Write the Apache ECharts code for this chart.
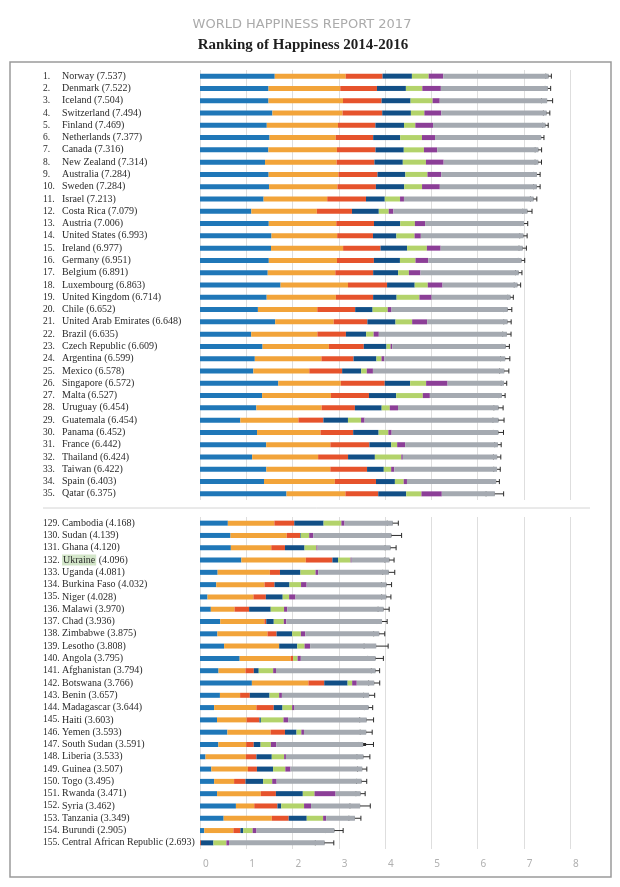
<!DOCTYPE html>
<html><head><meta charset="utf-8">
<script src="https://cdn.jsdelivr.net/npm/echarts@6/dist/echarts.min.js"></script>
<style>html,body{margin:0;padding:0;background:#fff}#c{width:620px;height:887px}</style>
</head><body><div id="c"></div>
<script>
// ---- data (World Happiness Report 2017, Figure: Ranking of Happiness 2014-2016) ----
const ranks = [1,2,3,4,5,6,7,8,9,10,11,12,13,14,15,16,17,18,19,20,21,22,23,24,25,26,27,28,29,30,31,32,33,34,35,
  129,130,131,132,133,134,135,136,137,138,139,140,141,142,143,144,145,146,147,148,149,150,151,152,153,154,155];
const names = ['Norway','Denmark','Iceland','Switzerland','Finland','Netherlands','Canada','New Zealand','Australia','Sweden',
  'Israel','Costa Rica','Austria','United States','Ireland','Germany','Belgium','Luxembourg','United Kingdom','Chile',
  'United Arab Emirates','Brazil','Czech Republic','Argentina','Mexico','Singapore','Malta','Uruguay','Guatemala','Panama',
  'France','Thailand','Taiwan','Spain','Qatar',
  'Cambodia','Sudan','Ghana','Ukraine','Uganda','Burkina Faso','Niger','Malawi','Chad','Zimbabwe','Lesotho','Angola',
  'Afghanistan','Botswana','Benin','Madagascar','Haiti','Yemen','South Sudan','Liberia','Guinea','Togo','Rwanda','Syria',
  'Tanzania','Burundi','Central African Republic'];
const scores = [7.537,7.522,7.504,7.494,7.469,7.377,7.316,7.314,7.284,7.284,7.213,7.079,7.006,6.993,6.977,6.951,6.891,6.863,6.714,6.652,
  6.648,6.635,6.609,6.599,6.578,6.572,6.527,6.454,6.454,6.452,6.442,6.424,6.422,6.403,6.375,
  4.168,4.139,4.120,4.096,4.081,4.032,4.028,3.970,3.936,3.875,3.808,3.795,3.794,3.766,3.657,3.644,3.603,3.593,3.591,3.533,
  3.507,3.495,3.471,3.462,3.349,2.905,2.693];
const gdp = [1.616,1.482,1.481,1.565,1.444,1.504,1.479,1.406,1.484,1.494,1.375,1.110,1.487,1.546,1.536,1.488,1.464,1.742,1.442,1.252,
  1.626,1.107,1.353,1.185,1.153,1.692,1.343,1.218,0.872,1.233,1.431,1.128,1.434,1.384,1.870,
  0.602,0.660,0.667,0.894,0.381,0.351,0.162,0.234,0.438,0.376,0.521,0.858,0.401,1.122,0.431,0.306,0.368,0.592,0.397,0.119,
  0.245,0.305,0.369,0.777,0.511,0.092,0.000];
const socialSupport = [1.534,1.551,1.611,1.517,1.540,1.429,1.481,1.548,1.510,1.478,1.376,1.416,1.460,1.420,1.558,1.473,1.462,1.458,1.496,1.284,
  1.266,1.431,1.434,1.440,1.210,1.353,1.488,1.412,1.256,1.373,1.388,1.426,1.384,1.532,1.274,
  1.006,1.214,0.874,1.394,1.130,1.044,0.993,0.513,0.954,1.083,1.191,1.104,0.582,1.222,0.436,0.913,0.640,0.935,0.601,0.872,
  0.791,0.432,0.946,0.396,1.042,0.630,0.000];
const lifeExpectancy = [0.797,0.793,0.834,0.858,0.809,0.811,0.835,0.817,0.844,0.831,0.838,0.760,0.815,0.774,0.810,0.799,0.818,0.845,0.805,0.819,
  0.727,0.617,0.754,0.695,0.710,0.949,0.822,0.719,0.540,0.706,0.844,0.647,0.794,0.889,0.710,
  0.430,0.290,0.296,0.575,0.218,0.216,0.269,0.315,0.041,0.197,0.000,0.050,0.181,0.342,0.210,0.375,0.277,0.310,0.164,0.229,
  0.195,0.247,0.326,0.501,0.365,0.152,0.019];
const freedom = [0.635,0.626,0.627,0.620,0.618,0.585,0.611,0.614,0.602,0.613,0.406,0.580,0.568,0.506,0.573,0.563,0.540,0.597,0.508,0.377,
  0.608,0.437,0.491,0.495,0.412,0.550,0.589,0.579,0.531,0.550,0.470,0.580,0.362,0.409,0.604,
  0.634,0.015,0.423,0.123,0.443,0.324,0.364,0.467,0.162,0.336,0.391,0.000,0.106,0.505,0.426,0.190,0.031,0.250,0.148,0.332,
  0.349,0.380,0.582,0.082,0.390,0.060,0.271];
const generosity = [0.362,0.355,0.476,0.291,0.245,0.470,0.436,0.500,0.478,0.385,0.330,0.215,0.316,0.393,0.428,0.336,0.232,0.283,0.493,0.327,
  0.360,0.162,0.088,0.109,0.121,0.345,0.575,0.175,0.283,0.211,0.130,0.572,0.159,0.190,0.330,
  0.385,0.182,0.257,0.270,0.326,0.250,0.139,0.288,0.217,0.189,0.158,0.098,0.312,0.099,0.208,0.208,0.489,0.104,0.222,0.267,
  0.265,0.197,0.253,0.494,0.354,0.204,0.281];
const corruption = [0.316,0.401,0.154,0.367,0.383,0.283,0.287,0.383,0.301,0.384,0.085,0.100,0.221,0.136,0.298,0.277,0.251,0.319,0.265,0.082,
  0.324,0.112,0.037,0.060,0.133,0.464,0.153,0.178,0.077,0.071,0.173,0.032,0.066,0.071,0.440,
  0.068,0.090,0.025,0.023,0.058,0.120,0.138,0.072,0.054,0.096,0.120,0.070,0.061,0.099,0.060,0.052,0.100,0.057,0.117,0.039,
  0.111,0.096,0.455,0.151,0.066,0.084,0.057];
const dystopiaResidual = [2.277,2.314,2.323,2.277,2.430,2.295,2.187,2.046,2.066,2.098,2.802,2.898,2.138,2.218,1.773,2.016,2.124,1.619,1.704,2.512,
  1.738,2.770,2.452,2.614,2.839,1.219,1.557,2.172,2.894,2.307,2.005,2.040,2.224,1.928,1.147,
  1.043,1.687,1.578,0.815,1.526,1.727,1.963,2.081,2.070,1.597,1.429,1.615,2.151,0.377,1.885,1.600,1.698,1.345,1.879,1.675,
  1.552,1.837,0.540,1.061,0.621,1.683,2.066];
const ciHalfWidth = [0.06,0.06,0.12,0.07,0.06,0.06,0.07,0.07,0.07,0.07,0.07,0.10,0.08,0.08,0.08,0.07,0.07,0.07,0.06,0.09,
  0.08,0.09,0.08,0.10,0.10,0.06,0.07,0.10,0.12,0.11,0.07,0.08,0.07,0.07,0.19,
  0.12,0.22,0.12,0.10,0.13,0.11,0.10,0.12,0.11,0.12,0.26,0.17,0.09,0.12,0.12,0.09,0.15,0.13,0.16,0.14,
  0.10,0.11,0.10,0.22,0.13,0.19,0.20];
const xTicks = [0,1,2,3,4,5,6,7,8];
const components = [
  {name:'GDP per capita', data: gdp, color:'#1f77b8'},
  {name:'Social support', data: socialSupport, color:'#f2a43a'},
  {name:'Healthy life expectancy', data: lifeExpectancy, color:'#e6532c'},
  {name:'Freedom to make life choices', data: freedom, color:'#124f86'},
  {name:'Generosity', data: generosity, color:'#b3d36b'},
  {name:'Perceptions of corruption', data: corruption, color:'#8c3f97'},
  {name:'Dystopia (1.85) + residual', data: dystopiaResidual, color:'#a5aab1'}
];
const SPLIT = 35;
const blocks = [[0, SPLIT], [SPLIT, names.length]];

const serif = "'Liberation Serif', 'DejaVu Serif', serif";
const chart = echarts.init(document.getElementById('c'), null, {renderer:'canvas'});

const grids = [
  {left:200, width:370, top:70, height:430},
  {left:200, width:370, top:517, height:332}
];
const xAxes = grids.map((g, i) => ({
  type:'value', gridIndex:i, min:xTicks[0], max:xTicks[xTicks.length-1], interval:1,
  axisLine:{show:false}, axisTick:{show:false},
  splitLine:{show:true, lineStyle:{color:'#dedede', width:1}},
  axisLabel:{show: i === 1, color:'#b0b0b0', fontSize:10, fontFamily:"'Noto Sans', sans-serif",
    align:'left', padding:[0,0,0,3], margin:10}
}));
const yAxes = blocks.map(([a, b], i) => ({
  type:'category', gridIndex:i, inverse:true,
  data: names.slice(a, b),
  axisLine:{show:false}, axisTick:{show:false}, splitLine:{show:false},
  axisLabel:{
    margin:157, align:'left', fontFamily:serif, fontSize:10, color:'#2a2a2a', interval:0,
    formatter: (val, idx) => {
      const k = a + idx;
      const r = '{r|' + ranks[k] + '.}';
      const s = ' (' + scores[k].toFixed(3) + ')';
      if (val === 'Ukraine') return r + '{u|' + val + '}{n|' + s + '}';
      return r + '{n|' + val + s + '}';
    },
    rich:{
      r:{width:19, fontFamily:serif, fontSize:9.5, color:'#2a2a2a'},
      n:{fontFamily:serif, fontSize:10, color:'#2a2a2a'},
      u:{fontFamily:serif, fontSize:10, color:'#2a2a2a', backgroundColor:'#d3e6c9', padding:[1,1,0,1]}
    }
  }
}));

const series = [];
blocks.forEach(([a, b], gi) => {
  components.forEach(c => {
    series.push({
      type:'bar', name:c.name, xAxisIndex:gi, yAxisIndex:gi, stack:'s' + gi,
      barWidth:5, silent:true, data:c.data.slice(a, b),
      itemStyle:{color:c.color}
    });
  });
  const errData = [];
  for (let k = a; k < b; k++) {
    errData.push([scores[k] - ciHalfWidth[k], scores[k] + ciHalfWidth[k], k - a, scores[k]]);
  }
  series.push({
    type:'custom', xAxisIndex:gi, yAxisIndex:gi, silent:true,
    encode:{x:[0,1], y:2},
    data: errData,
    renderItem: (params, api) => {
      const yi = api.value(2);
      const p1 = api.coord([api.value(0), yi]);
      const p2 = api.coord([api.value(1), yi]);
      const pm = api.coord([api.value(3), yi]);
      const h = 5;
      const st = {stroke:'#2b2b2b', lineWidth:1};
      return {type:'group', children:[
        {type:'line', shape:{x1:p1[0], y1:p1[1], x2:p2[0], y2:p2[1]}, style:st},
        {type:'line', shape:{x1:p1[0], y1:p1[1]-h/2, x2:p1[0], y2:p1[1]+h/2}, style:st},
        {type:'line', shape:{x1:p2[0], y1:p2[1]-h/2, x2:p2[0], y2:p2[1]+h/2}, style:st},
        {type:'rect', shape:{x:p1[0], y:pm[1]-1.5, width:pm[0]-p1[0], height:3}, style:{fill:'#2b2b2b'}}
      ]};
    }
  });
});

chart.setOption({
  animation:false,
  backgroundColor:'#fff',
  title:[
    {text:'WORLD HAPPINESS REPORT 2017', left:297, top:13, textAlign:'center',
      textStyle:{fontFamily:"'DejaVu Sans', sans-serif", fontSize:13, fontWeight:'normal', color:'#ababab'}},
    {text:'Ranking of Happiness 2014-2016', left:298, top:33, textAlign:'center',
      textStyle:{fontFamily:serif, fontSize:15, fontWeight:'bold', color:'#1e1e1e'}}
  ],
  grid:grids, xAxis:xAxes, yAxis:yAxes, series:series,
  graphic:[
    {type:'rect', shape:{x:10, y:62, width:601, height:815}, style:{fill:'none', stroke:'#9a9a9a', lineWidth:1.5}, silent:true},
    {type:'line', shape:{x1:43, y1:508, x2:590, y2:508}, style:{stroke:'#d4d4d4', lineWidth:1}, silent:true}
  ]
});
</script></body></html>
